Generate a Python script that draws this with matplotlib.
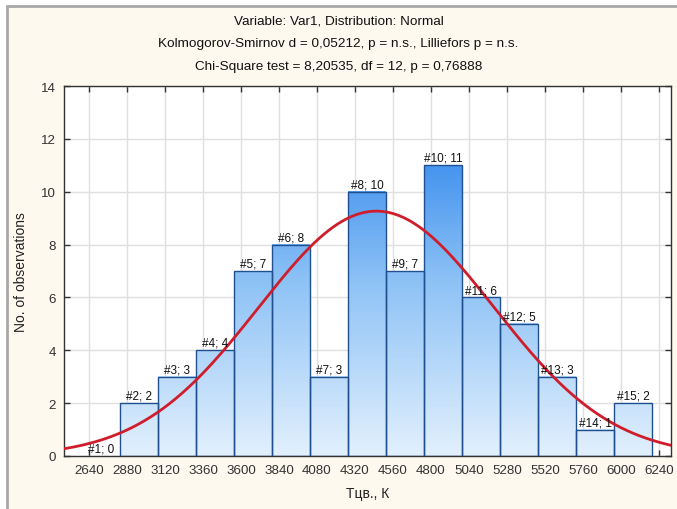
import numpy as np
import matplotlib
matplotlib.use("Agg")
import matplotlib.pyplot as plt
from matplotlib.patches import Rectangle
from matplotlib.colors import LinearSegmentedColormap

# histogram data
counts = [0, 2, 3, 4, 7, 8, 3, 10, 7, 11, 6, 5, 3, 1, 2]
first_edge = 2596
bin_width = 240
xticks = [2640, 2880, 3120, 3360, 3600, 3840, 4080, 4320, 4560,
          4800, 5040, 5280, 5520, 5760, 6000, 6240]
yticks = [0, 2, 4, 6, 8, 10, 12, 14]

# fitted normal curve
fit_mean = 4455
fit_sd = 744

titles = ["Variable: Var1, Distribution: Normal",
          "Kolmogorov-Smirnov d = 0,05212, p = n.s., Lilliefors p = n.s.",
          "Chi-Square test = 8,20535, df = 12, p = 0,76888"]

plt.rcParams['font.family'] = ['Liberation Sans', 'DejaVu Sans']

W, H = 677, 510
fig = plt.figure(figsize=(W / 100, H / 100), dpi=100, facecolor='white')

# cream panel with gray frame
panel = Rectangle((7 / W, -0.05), 1.2, (H - 7) / H + 0.05, transform=fig.transFigure,
                  facecolor='#fdf9ef', edgecolor='#a8a8a8', lw=2, zorder=-5)
fig.patches.append(panel)

ax = fig.add_axes([64 / W, 53 / H, 607 / W, 370 / H])
ax.set_zorder(1)
ax.set_facecolor('white')
xmin, xmax = 2482, 6316

cmap = LinearSegmentedColormap.from_list('bl', ['#e2f0fd', '#8fc3f6', '#2580ec'])

for i, c in enumerate(counts):
    x0 = first_edge + i * bin_width
    if c > 0:
        grad = np.linspace(0, c, 200)[:, None]
        ax.imshow(grad, extent=[x0, x0 + bin_width, 0, c], origin='lower',
                  aspect='auto', cmap=cmap, vmin=0, vmax=13, zorder=2,
                  interpolation='bilinear')
        ax.add_patch(Rectangle((x0, 0), bin_width, c, fill=False,
                               edgecolor='#1f4f8e', lw=1, zorder=3))
    ax.text(x0 + bin_width / 2, c + 0.05, f"#{i + 1}; {c}", ha='center',
            va='bottom', fontsize=8.5, color='#111111', zorder=5)

xs = np.linspace(xmin, xmax, 400)
n = sum(counts)
curve = n * bin_width * np.exp(-0.5 * ((xs - fit_mean) / fit_sd) ** 2) / (fit_sd * np.sqrt(2 * np.pi))
ax.plot(xs, curve, color='#cf1d2b', lw=2, zorder=4)

ax.set_xlim(xmin, xmax)
ax.set_ylim(0, 14)
ax.set_xticks(xticks)
ax.set_yticks(yticks)
ax.grid(True, color='#e0e0e0', lw=1, zorder=0)
ax.set_axisbelow(True)
ax.tick_params(direction='in', length=4, width=1, colors='#333333',
               top=True, right=True, labelsize=9.6, pad=6)
for s in ax.spines.values():
    s.set_color('#333333')
    s.set_linewidth(1)

ax.set_xlabel("Тцв., К", fontsize=10, color='#222222', labelpad=7)
ax.set_ylabel("No. of observations", fontsize=10, color='#222222', labelpad=9)

for k, t in enumerate(titles):
    fig.text(0.5, 1 - (21 + 23 * k) / H, t, ha='center', va='center',
             fontsize=9.7, color='#111111')

fig.savefig("out.png", dpi=100, facecolor=fig.get_facecolor())
